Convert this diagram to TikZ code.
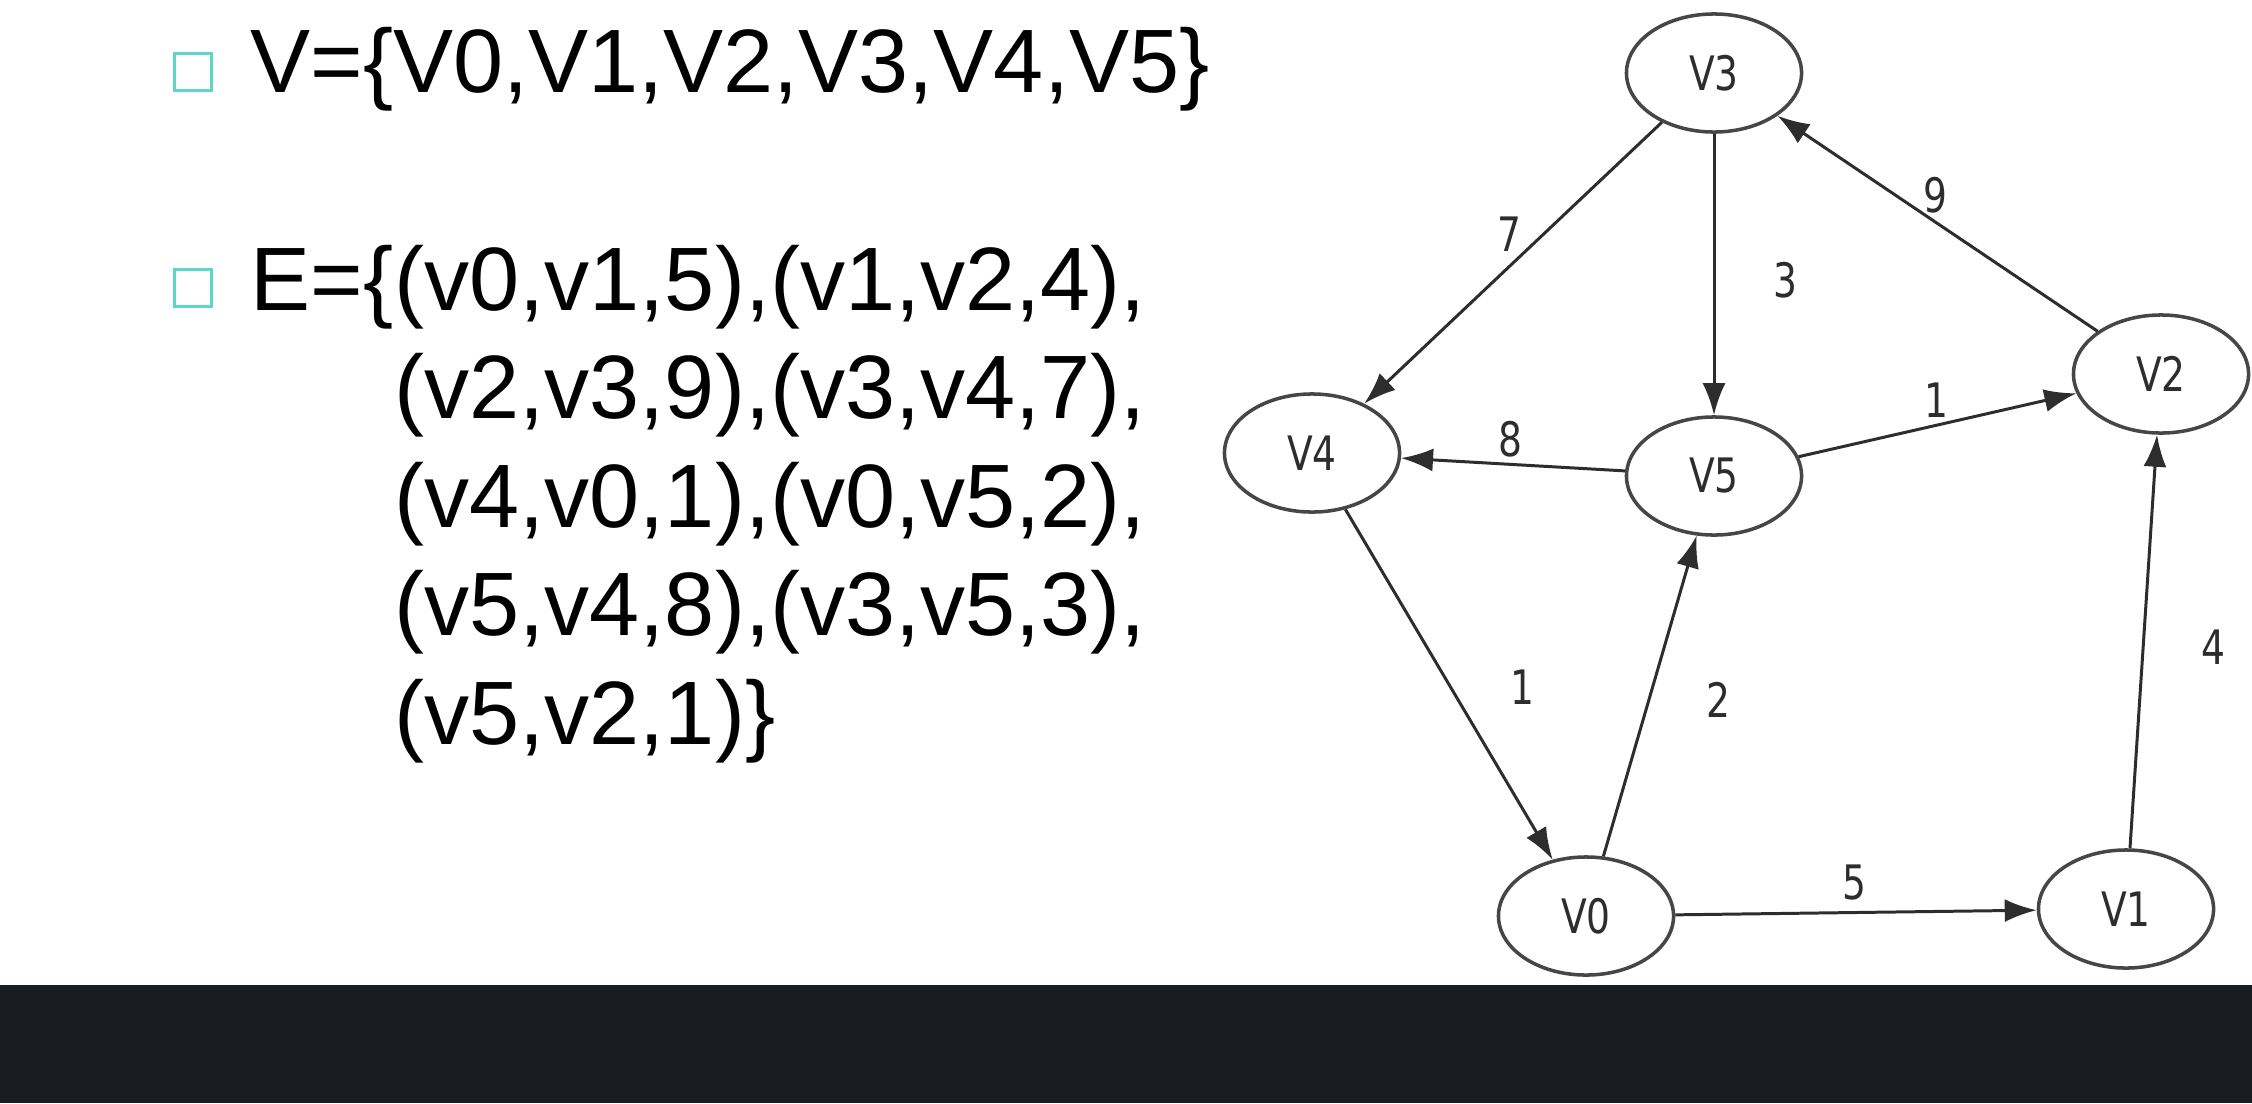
\documentclass[tikz,border=0pt]{standalone}
\usepackage{fontspec}
\setmainfont{Liberation Sans}
\newfontfamily\graphfont[FakeStretch=0.88]{DejaVu Sans Condensed}
\usetikzlibrary{%
    arrows.meta,
    positioning,
    shapes.geometric
}
\definecolor{bulletteal}{RGB}{92,214,198}
\definecolor{barblack}{RGB}{25,28,33}
\definecolor{inkgray}{RGB}{45,45,45}
\definecolor{ringgray}{RGB}{70,70,70}
\tikzset{edgearrow/.style = {-{Latex[length=.32cm,width=.23cm]}, draw=inkgray, line width=.85pt}}

\begin{document}
\begin{tikzpicture}[x=.01cm, y=-.01cm,
    vertex/.style = {ellipse, draw=ringgray, line width=1pt, minimum width=1.75cm,
        minimum height=1.18cm, inner sep=0pt, text=inkgray,
        font=\graphfont\fontsize{13.5pt}{15pt}\selectfont},
    weight/.style = {inner sep=0pt, text=inkgray, font=\graphfont\fontsize{13.5pt}{15pt}\selectfont},
    slide/.style = {inner sep=0pt, anchor=base west, font=\fontsize{25.6pt}{30pt}\selectfont},
    bullet/.style = {draw=bulletteal, line width=.9pt, minimum size=.37cm, inner sep=0pt}]
    \useasboundingbox (0,0) rectangle (2252,1103);
    \fill[white] (0,0) rectangle (2252,1103);
    \fill[barblack] (0,985) rectangle (2252,1103);

    % left column: the two sets
    \node[bullet] (b1) at (193,72) {};
    \node[bullet] (b2) at (193,288) {};
    \node[slide] (vset) at (250,92) {V=\{V0,V1,V2,V3,V4,V5\}};
    \node[slide] (eset) at (250,310) {E=\{};
    \node[slide] (e1) at (eset.base east) {(v0,v1,5),(v1,v2,4),};
    \node[slide] (e2) at ([yshift=-1.085cm]e1.base west) {(v2,v3,9),(v3,v4,7),};
    \node[slide] (e3) at ([yshift=-1.085cm]e2.base west) {(v4,v0,1),(v0,v5,2),};
    \node[slide] (e4) at ([yshift=-1.085cm]e3.base west) {(v5,v4,8),(v3,v5,3),};
    \node[slide] (e5) at ([yshift=-1.085cm]e4.base west) {(v5,v2,1)\}};

    % right column: the graph
    \node[vertex] (v3) at (1714,73) {V3};
    \node[vertex] (v2) at (2161,374) {V2};
    \node[vertex] (v4) at (1312,453) {V4};
    \node[vertex] (v5) at (1714,476) {V5};
    \node[vertex] (v0) at (1586,916) {V0};
    \node[vertex] (v1) at (2126,909) {V1};

    \draw[edgearrow] (v3) -- (v4);
    \draw[edgearrow] (v3) -- (v5);
    \draw[edgearrow] (v2) -- (v3);
    \draw[edgearrow] (v5) -- (v4);
    \draw[edgearrow] (v5) -- (v2);
    \draw[edgearrow] (v4) -- (v0);
    \draw[edgearrow] (v0) -- (v5);
    \draw[edgearrow] (v0) -- (v1);
    \draw[edgearrow] (v1) -- (v2);

    \node[weight] (w34) at (1509,234) {7};
    \node[weight] (w35) at (1785,280) {3};
    \node[weight] (w23) at (1935,195) {9};
    \node[weight] (w54) at (1510,439) {8};
    \node[weight] (w52) at (1936,400) {1};
    \node[weight] (w40) at (1522,687) {1};
    \node[weight] (w05) at (1718,700) {2};
    \node[weight] (w12) at (2213,647) {4};
    \node[weight] (w01) at (1854,883) {5};
\end{tikzpicture}
\end{document}
